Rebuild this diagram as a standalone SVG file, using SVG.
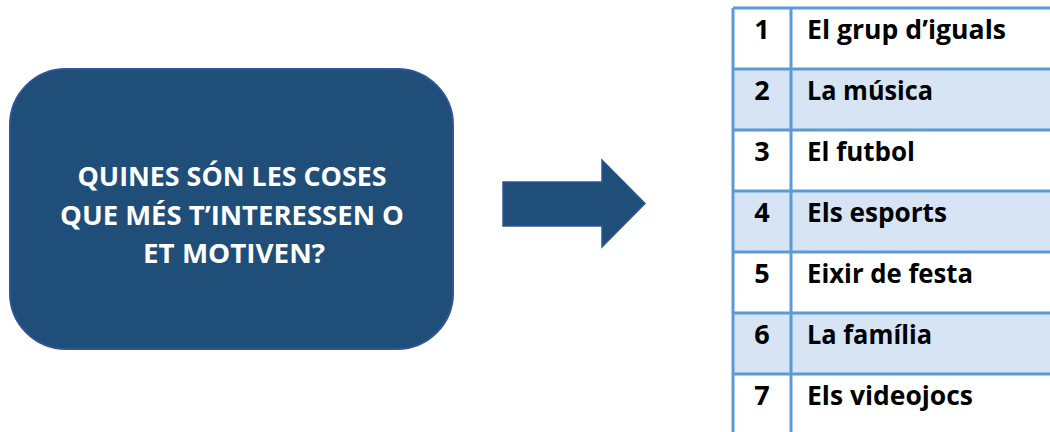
<svg xmlns="http://www.w3.org/2000/svg" width="1050" height="432" viewBox="0 0 1050 432">
<style>
.q{font-family:"Open Sans","Liberation Sans",sans-serif;font-weight:bold;font-size:27px;fill:#ffffff;text-anchor:middle}
.t{font-family:"Open Sans","Liberation Sans",sans-serif;font-weight:bold;font-size:27px;fill:#000000}
.n{text-anchor:middle}
.grid{stroke:#5B9BD5;stroke-width:3;fill:none}
</style>
<rect width="1050" height="432" fill="#ffffff"/>
<g id="question">
<rect x="10" y="69" width="443" height="280" rx="56" ry="56" fill="#1F4E79" stroke="#2F5597" stroke-width="2"/>
<text class="q" x="232" y="186" textLength="309" lengthAdjust="spacingAndGlyphs">QUINES SÓN LES COSES</text>
<text class="q" x="232" y="225" textLength="344" lengthAdjust="spacingAndGlyphs">QUE MÉS T’INTERESSEN O</text>
<text class="q" x="234" y="263" textLength="182" lengthAdjust="spacingAndGlyphs">ET MOTIVEN?</text>
</g>
<g id="connectors">
<polygon points="503,182 602,182 602,160 645,203.5 602,247 602,226 503,226" fill="#1F4E79" stroke="#2F5597" stroke-width="1.5"/>
</g>
<g id="table">
<rect x="733" y="69" width="320" height="61" fill="#D6E4F4"/>
<rect x="733" y="191" width="320" height="61" fill="#D6E4F4"/>
<rect x="733" y="313" width="320" height="61" fill="#D6E4F4"/>
<path class="grid" d="M733,8 V432 M791,8 V432 M733,8 H1052 M733,69 H1052 M733,130 H1052 M733,191 H1052 M733,252 H1052 M733,313 H1052 M733,374 H1052"/>
<text class="t n" x="762" y="39">1</text>
<text class="t" x="807" y="39" textLength="199" lengthAdjust="spacingAndGlyphs">El grup d’iguals</text>
<text class="t n" x="762" y="100">2</text>
<text class="t" x="807" y="100" textLength="126" lengthAdjust="spacingAndGlyphs">La música</text>
<text class="t n" x="762" y="161">3</text>
<text class="t" x="807" y="161" textLength="108" lengthAdjust="spacingAndGlyphs">El futbol</text>
<text class="t n" x="762" y="222">4</text>
<text class="t" x="807" y="222" textLength="140" lengthAdjust="spacingAndGlyphs">Els esports</text>
<text class="t n" x="762" y="283">5</text>
<text class="t" x="807" y="283" textLength="166" lengthAdjust="spacingAndGlyphs">Eixir de festa</text>
<text class="t n" x="762" y="344">6</text>
<text class="t" x="807" y="344" textLength="125" lengthAdjust="spacingAndGlyphs">La família</text>
<text class="t n" x="762" y="405">7</text>
<text class="t" x="807" y="405" textLength="166" lengthAdjust="spacingAndGlyphs">Els videojocs</text>
</g>
</svg>
